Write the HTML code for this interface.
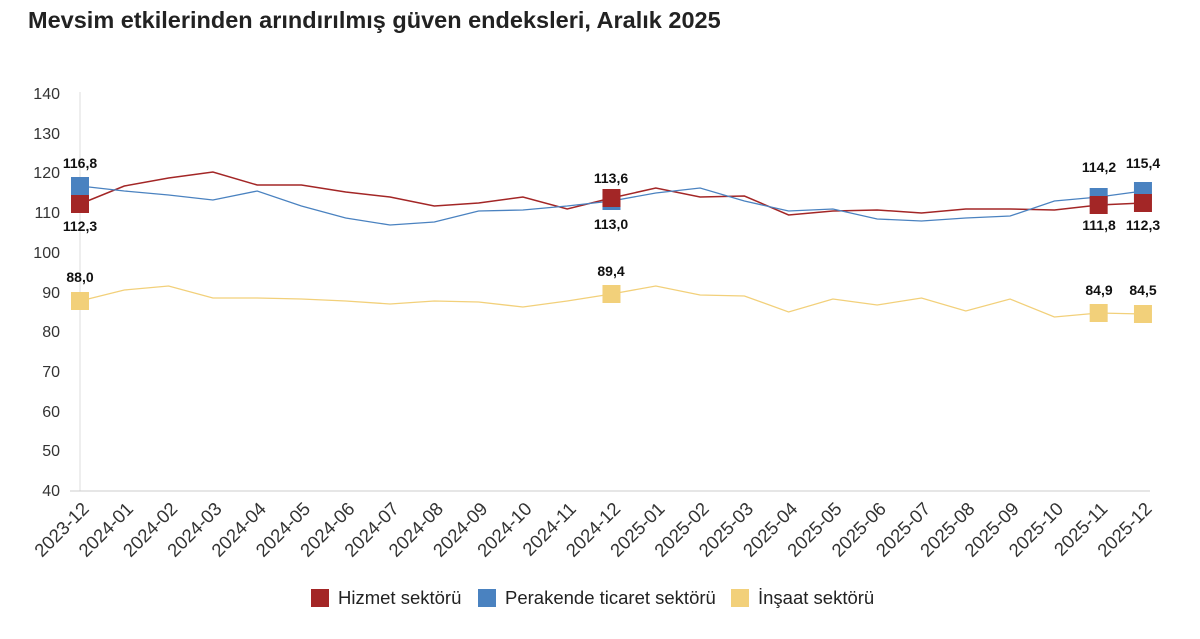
<!DOCTYPE html><html><head><meta charset="utf-8"><style>body{margin:0;background:#fff;font-family:"Liberation Sans",sans-serif}</style></head><body>
<svg width="1200" height="634" xmlns="http://www.w3.org/2000/svg" font-family="Liberation Sans, sans-serif">
<text x="28" y="28" font-size="23.5" font-weight="bold" fill="#222">Mevsim etkilerinden arındırılmış güven endeksleri, Aralık 2025</text>
<g font-size="16" fill="#333" text-anchor="end">
<text x="60" y="99">140</text><text x="60" y="139">130</text><text x="60" y="178">120</text><text x="60" y="218">110</text><text x="60" y="258">100</text><text x="60" y="298">90</text><text x="60" y="337">80</text><text x="60" y="377">70</text><text x="60" y="417">60</text><text x="60" y="456">50</text><text x="60" y="496">40</text></g>
<line x1="80" y1="92" x2="80" y2="491" stroke="#ddd"/>
<line x1="70" y1="491" x2="1150" y2="491" stroke="#ccc"/>
<g id="xl" font-size="18.5" fill="#333" text-anchor="end"></g>
<polyline fill="none" stroke="#a32626" stroke-width="1.5" id="r"/>
<polyline fill="none" stroke="#4a82c0" stroke-width="1.3" id="b"/>
<polyline fill="none" stroke="#f2d07a" stroke-width="1.3" id="y"/>
<g id="m"></g>
<g font-size="14" font-weight="bold" fill="#111" text-anchor="middle">
<text x="80" y="168">116,8</text><text x="80" y="231">112,3</text><text x="80" y="282">88,0</text>
<text x="611" y="183">113,6</text><text x="611" y="229">113,0</text><text x="611" y="276">89,4</text>
<text x="1099" y="172">114,2</text><text x="1143" y="168">115,4</text><text x="1099" y="230">111,8</text><text x="1143" y="230">112,3</text>
<text x="1099" y="295">84,9</text><text x="1143" y="295">84,5</text></g>
<g font-size="18.5" fill="#222">
<rect x="311" y="589" width="18" height="18" fill="#a32626"/><text x="338" y="604">Hizmet sektörü</text>
<rect x="478" y="589" width="18" height="18" fill="#4a82c0"/><text x="505" y="604">Perakende ticaret sektörü</text>
<rect x="731" y="589" width="18" height="18" fill="#f2d07a"/><text x="758" y="604">İnşaat sektörü</text></g>
</svg>
<script>
const R=[204,186,178,172,185,185,192,197,206,203,197,209,198,188,197,196,215,211,210,213,209,209,210,205,203];
const B=[186,191,195,200,191,206,218,225,222,211,210,206,201,193,188,201,211,209,219,221,218,216,201,197,191];
const Y=[301,290,286,298,298,299,301,304,301,302,307,301,294,286,295,296,312,299,305,298,311,299,317,313,314];
const X=i=>80+i*44.29;
const s=a=>a.map((v,i)=>X(i).toFixed(1)+","+v).join(" ");
document.getElementById('r').setAttribute('points',s(R));
document.getElementById('b').setAttribute('points',s(B));
document.getElementById('y').setAttribute('points',s(Y));
let m='';
for(const i of [0,12,23,24]){
m+=`<rect x="${X(i)-9}" y="${B[i]-9}" width="18" height="18" fill="#4a82c0"/>`;
}
for(const i of [0,12,23,24]){
m+=`<rect x="${X(i)-9}" y="${R[i]-9}" width="18" height="18" fill="#a32626"/>`;
m+=`<rect x="${X(i)-9}" y="${Y[i]-9}" width="18" height="18" fill="#f2d07a"/>`;
}
document.getElementById('m').innerHTML=m;
let xl='';
for(let i=0;i<25;i++){
const y=2023+Math.floor((i+11)/12), mo=((i+11)%12)+1;
const t=y+'-'+String(mo).padStart(2,'0');
xl+=`<text transform="translate(${X(i)+10},${510}) rotate(-45)">${t}</text>`;
}
document.getElementById('xl').innerHTML=xl;
</script>
</body></html>
